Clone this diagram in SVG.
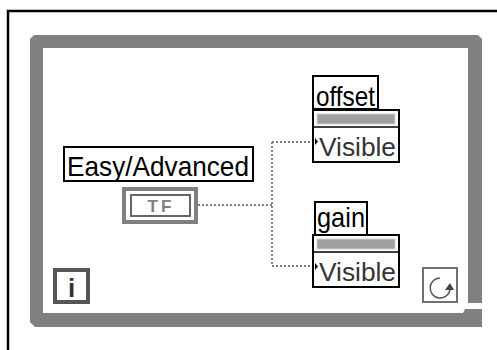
<svg xmlns="http://www.w3.org/2000/svg" width="497" height="350" viewBox="0 0 497 350">
<style>
.lbl{font-family:"Liberation Sans",Arial,sans-serif;font-size:28px;fill:#000}
.vis{font-family:"Liberation Sans",Arial,sans-serif;font-size:25px;fill:#333}
.box{fill:#fff;stroke:#000;stroke-width:2}
.wire{fill:none;stroke:#808080;stroke-width:2;stroke-dasharray:2 2}
</style>
<rect width="497" height="350" fill="#fff"/>
<path d="M8,350V11H497" fill="none" stroke="#000" stroke-width="2.5"/>
<g id="whileloop">
<path d="M34,35H478L482,39V303H468V48H43V313H463L465,309H482V327H35L30,322V39Z" fill="#808080"/>
</g>
<g id="iteration">
<rect x="55" y="270" width="33" height="32" fill="#fff" stroke="#555" stroke-width="4"/>
<text x="71.5" y="297" text-anchor="middle" font-family="Liberation Sans,Arial,sans-serif" font-weight="bold" font-size="26" fill="#333">i</text>
</g>
<g id="conditional">
<rect x="423" y="268" width="34" height="34" fill="#fff" stroke="#707070" stroke-width="2"/>
<path d="M440,278A10,10 0 1 0 450,290" fill="none" stroke="#555" stroke-width="1.5"/>
<polygon points="445,290 454,290 450,283" fill="#444"/>
</g>
<g id="connectors">
<path class="wire" d="M198,205H272M272,142V266M272,142H313M272,266H313"/>
</g>
<g id="easyadvanced">
<rect class="box" x="64" y="147" width="189" height="34" stroke-width="1.5"/>
<text class="lbl" x="67" y="176" textLength="182" lengthAdjust="spacingAndGlyphs">Easy/Advanced</text>
<rect x="124" y="189" width="72" height="33" fill="#fff" stroke="#808080" stroke-width="4"/>
<rect x="131" y="195" width="59" height="21" fill="#fff" stroke="#666" stroke-width="2"/>
<text x="161" y="212" text-anchor="middle" font-family="Liberation Sans,Arial,sans-serif" font-weight="bold" font-size="17" letter-spacing="3" fill="#808080">TF</text>
</g>
<g id="offset">
<rect class="box" x="313" y="110" width="86" height="52"/>
<rect x="317" y="114" width="78" height="10" fill="#a0a0a0" stroke="#d0d0d0" stroke-width="1"/>
<line x1="313" y1="127" x2="399" y2="127" stroke="#000" stroke-width="1.5"/>
<polygon points="315,138 318,141.5 315,145" fill="#000"/>
<text class="vis" x="319" y="156" textLength="77" lengthAdjust="spacingAndGlyphs">Visible</text>
<rect class="box" x="313" y="76" width="65" height="33"/>
<text class="lbl" x="316" y="106" textLength="59" lengthAdjust="spacingAndGlyphs">offset</text>
</g>
<g id="gain">
<rect class="box" x="313" y="235" width="86" height="52"/>
<rect x="317" y="239" width="78" height="10" fill="#a0a0a0" stroke="#d0d0d0" stroke-width="1"/>
<line x1="313" y1="252" x2="399" y2="252" stroke="#000" stroke-width="1.5"/>
<polygon points="315,263 318,266.5 315,270" fill="#000"/>
<text class="vis" x="319" y="281" textLength="77" lengthAdjust="spacingAndGlyphs">Visible</text>
<rect class="box" x="315" y="202" width="52" height="33"/>
<text class="lbl" x="317" y="227" textLength="48" lengthAdjust="spacingAndGlyphs">gain</text>
</g>
</svg>
